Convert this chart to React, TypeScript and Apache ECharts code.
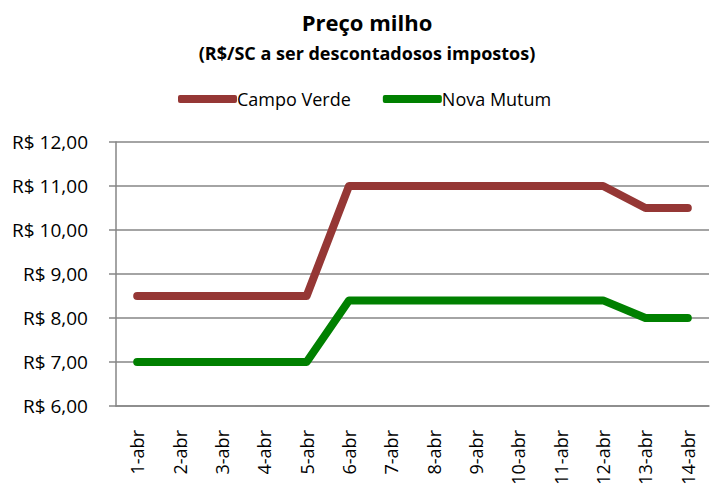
import React, { useEffect, useRef } from "react";
import * as echarts from "echarts";

const categories = ["1-abr","2-abr","3-abr","4-abr","5-abr","6-abr","7-abr","8-abr","9-abr","10-abr","11-abr","12-abr","13-abr","14-abr"];
const campoVerde = [8.5,8.5,8.5,8.5,8.5,11,11,11,11,11,11,11,10.5,10.5];
const novaMutum = [7,7,7,7,7,8.4,8.4,8.4,8.4,8.4,8.4,8.4,8,8];
const yMin = 6;
const yMax = 12;
const yInterval = 1;
const titleText = "Preço milho";
const subtitleText = "(R$/SC a ser descontadosos impostos)";

const FONT = "'Open Sans', 'Noto Sans', sans-serif";

export default function App() {
  const ref = useRef<HTMLDivElement>(null);
  useEffect(() => {
    const chart = echarts.init(ref.current!, null, { renderer: "svg" });
    chart.setOption({
      animation: false,
      backgroundColor: "#ffffff",
      graphic: [
        {
          type: "text",
          x: 367,
          y: 22,
          style: {
            text: titleText,
            fontFamily: FONT,
            fontSize: 22,
            fontWeight: "bold",
            fill: "#000",
            align: "center",
            verticalAlign: "middle",
          },
        },
        {
          type: "text",
          x: 367,
          y: 53,
          style: {
            text: subtitleText,
            fontFamily: FONT,
            fontSize: 18,
            fontWeight: "bold",
            fill: "#000",
            align: "center",
            verticalAlign: "middle",
          },
        },
      ],
      legend: {
        top: 90,
        left: 178,
        padding: 0,
        itemWidth: 59,
        itemHeight: 8,
        itemGap: 32,
        icon: "roundRect",
        textStyle: { fontFamily: FONT, fontSize: 18, color: "#000", padding: [0, 0, 0, -5] },
        data: ["Campo Verde", "Nova Mutum"],
      },
      grid: { left: 116, right: 3, top: 142, bottom: 78, containLabel: false, outerBoundsMode: "none" },
      xAxis: {
        type: "category",
        data: categories,
        boundaryGap: true,
        axisLine: { lineStyle: { color: "#868686", width: 1.5 } },
        axisTick: { show: false },
        axisLabel: { rotate: 90, fontFamily: FONT, fontSize: 18, color: "#000", margin: 24 },
      },
      yAxis: {
        type: "value",
        min: yMin,
        max: yMax,
        interval: yInterval,
        axisLine: { show: true, lineStyle: { color: "#868686", width: 1.5 } },
        axisTick: { show: true, length: 7, lineStyle: { color: "#868686", width: 1.5 } },
        splitLine: { lineStyle: { color: "#868686", width: 1.5 } },
        axisLabel: {
          fontFamily: FONT,
          fontSize: 19,
          color: "#000",
          margin: 28,
          formatter: (v: number) => "R$ " + v.toFixed(2).replace(".", ","),
        },
      },
      series: [
        {
          name: "Campo Verde",
          type: "line",
          data: campoVerde,
          showSymbol: false,
          symbol: "none",
          color: "#953735",
          lineStyle: { width: 8, color: "#953735", cap: "round", join: "round" },
        },
        {
          name: "Nova Mutum",
          type: "line",
          data: novaMutum,
          showSymbol: false,
          symbol: "none",
          color: "#008000",
          lineStyle: { width: 8, color: "#008000", cap: "round", join: "round" },
        },
      ],
    });
    return () => chart.dispose();
  }, []);
  return <div ref={ref} style={{ width: 712, height: 484, position: "absolute", left: 0, top: 0 }} />;
}
